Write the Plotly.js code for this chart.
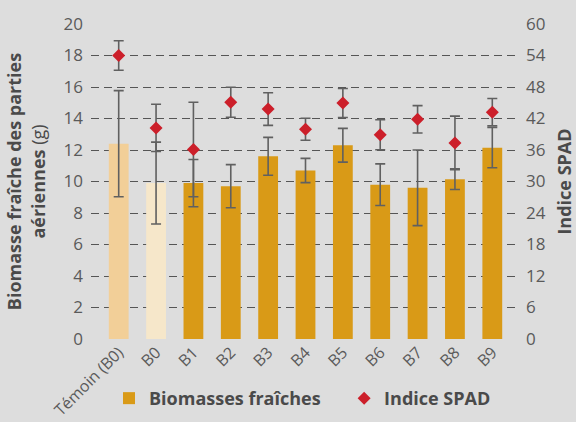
<!DOCTYPE html>
<html>
<head>
<meta charset="utf-8">
<script src="https://cdn.plot.ly/plotly-3.0.1.min.js"></script>
<style>html,body{margin:0;padding:0;background:#dddddd;}#chart{width:576px;height:422px;}</style>
</head>
<body>
<div id="chart"></div>
<script>
const categories = ['Témoin (B0)', 'B0', 'B1', 'B2', 'B3', 'B4', 'B5', 'B6', 'B7', 'B8', 'B9'];
const biomasse = [12.4, 9.9, 9.9, 9.7, 11.6, 10.7, 12.3, 9.8, 9.6, 10.15, 12.15];
const biomasseErr = [3.37, 2.6, 1.5, 1.37, 1.2, 0.77, 1.07, 1.32, 2.4, 0.66, 1.28];
const spad = [54.0, 40.2, 36.1, 45.1, 43.8, 39.95, 44.95, 38.9, 41.85, 37.35, 43.2];
const spadErr = [2.8, 4.5, 9.0, 2.85, 3.1, 2.1, 2.75, 2.85, 2.6, 5.1, 2.6];
const controlColors = ['#f2cf98', '#f6e7ca'];
const treatColor = '#d99a17';
const leftTicks = [0, 2, 4, 6, 8, 10, 12, 14, 16, 18, 20];
const rightTicks = [0, 6, 12, 18, 24, 30, 36, 42, 48, 54, 60];

const FONT = '"Open Sans", sans-serif';
const errStyle = {type: 'data', color: '#606060', thickness: 1.6, width: 5};
const nCtrl = controlColors.length;

const traces = [
  {type: 'bar', x: categories.slice(nCtrl), y: biomasse.slice(nCtrl), name: 'Biomasses fraîches',
   marker: {color: treatColor}, width: 0.53, showlegend: true, legend: 'legend',
   error_y: Object.assign({array: biomasseErr.slice(nCtrl)}, errStyle)},
  {type: 'bar', x: categories.slice(0, nCtrl), y: biomasse.slice(0, nCtrl), name: 'Témoins',
   marker: {color: controlColors}, width: 0.53, showlegend: false,
   error_y: Object.assign({array: biomasseErr.slice(0, nCtrl)}, errStyle)},
  {type: 'scatter', mode: 'markers', x: categories, y: spad, yaxis: 'y2', name: 'Indice SPAD', legend: 'legend2',
   marker: {symbol: 'diamond', color: '#cc1f2a', size: 10},
   error_y: Object.assign({array: spadErr}, errStyle)}
];

const legendFont = {family: FONT, size: 18, color: '#4a4a4a', weight: 'bold'};

const layout = {
  width: 576, height: 422,
  paper_bgcolor: '#dddddd', plot_bgcolor: '#dddddd',
  margin: {l: 91, r: 56, t: 24, b: 83, autoexpand: false},
  font: {family: FONT, color: '#555555', size: 15},
  showlegend: true,
  barmode: 'overlay',
  legend: {orientation: 'h', x: 0.042, xanchor: 'left', y: -0.13, yanchor: 'top',
           font: legendFont, bgcolor: 'rgba(0,0,0,0)'},
  legend2: {orientation: 'h', x: 0.59, xanchor: 'left', y: -0.13, yanchor: 'top',
            font: legendFont, bgcolor: 'rgba(0,0,0,0)'},
  xaxis: {type: 'category', categoryorder: 'array', categoryarray: categories, tickangle: -45, tickfont: {size: 16, color: '#5a5a5a'},
          showgrid: false, zeroline: false, showline: false, ticks: '', automargin: false},
  yaxis: {range: [0, 20], tickvals: leftTicks, ticktext: leftTicks.map(String), tickfont: {size: 17, color: '#5a5a5a'}, ticklabelstandoff: 7,
          showgrid: true, gridcolor: '#555555', griddash: '8px,5px', gridwidth: 1, zeroline: false, showline: false, ticks: '', automargin: false,
          title: {text: '<b>Biomasse fraîche des parties</b><br><b>aériennes</b> (g)', font: {size: 18, color: '#4a4a4a', family: FONT}, standoff: 13}},
  yaxis2: {range: [0, 60], overlaying: 'y', side: 'right', tickvals: rightTicks, ticktext: rightTicks.map(String), ticklabelstandoff: 5,
           tickfont: {size: 17, color: '#5a5a5a'}, showgrid: true, gridcolor: '#555555', griddash: '8px,5px', gridwidth: 1, zeroline: false, showline: false, ticks: '', automargin: false,
           title: {text: '<b>Indice SPAD</b>', font: {size: 18, color: '#4a4a4a', family: FONT}, standoff: 26}}
};

Plotly.newPlot('chart', traces, layout, {displayModeBar: false, staticPlot: true});
</script>
</body>
</html>
